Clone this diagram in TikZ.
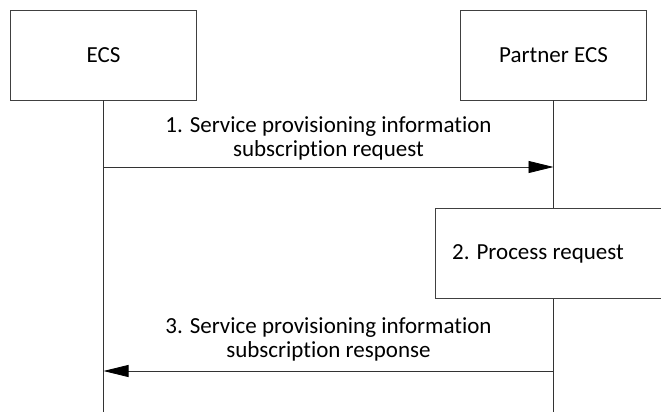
\documentclass[tikz,border=0pt]{standalone}
\usepackage{fontspec}
\setmainfont[Ligatures=NoCommon]{Carlito}
\usetikzlibrary{arrows.meta, positioning}

\tikzset{
  entity/.style={draw=black!75, line width=0.8pt, minimum width=186pt, minimum height=90pt, font=\fontsize{23}{24}\selectfont},
  msg/.style={draw=black!80, line width=0.8pt, -{Triangle[length=25pt,width=12pt,fill=black,color=black]}},
  life/.style={draw=black!80, line width=0.8pt},
  lbl/.style={align=center, font=\fontsize{23}{24}\selectfont}
}

\begin{document}
\begin{tikzpicture}[x=1pt,y=-1pt]
\clip (0,0) rectangle (661,412);
% entities
\node[entity] (ecs) at (103.5,55) {ECS};
\node[entity] (partner) at (553.5,55) {Partner ECS};
\coordinate (ecsend) at (103.5,412);
\coordinate (partnerend) at (553.5,412);
% lifelines
\draw[life] (ecs.south) -- (ecsend);
\draw[life] (partner.south) -- (partnerend);
\node[entity, fill=white, minimum width=232pt] (process) at (551,253.5) {};
\node[lbl] (processtxt) at (538,253.5) {2. Process request};
% step 1
\coordinate (req1a) at (103.5,167);
\coordinate (req1b) at (553.5,167);
\draw[msg] (req1a) -- (req1b);
\node[lbl] (req1txt) at (328.5,138) {1. Service provisioning information\\subscription request};
% step 3
\coordinate (resp3a) at (553.5,371);
\coordinate (resp3b) at (103.5,371);
\draw[msg] (resp3a) -- (resp3b);
\node[lbl] (resp3txt) at (328.5,339) {3. Service provisioning information\\subscription response};
\end{tikzpicture}
\end{document}
